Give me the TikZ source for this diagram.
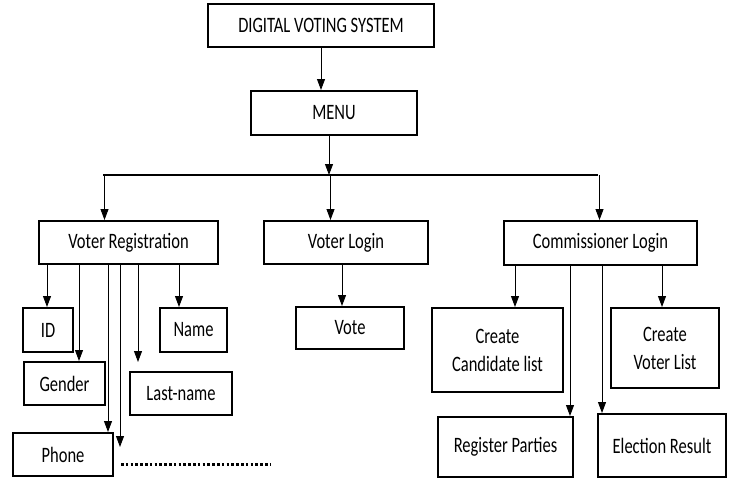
\documentclass[tikz,border=0pt]{standalone}
\usepackage{fontspec}
\setmainfont{Carlito}[FakeStretch=0.75]
\usetikzlibrary{arrows.meta}

\begin{document}
\begin{tikzpicture}[x=1pt,y=-1pt,
    box/.style={draw, line width=2pt, inner sep=0pt, align=center,
                font=\fontsize{22}{28}\selectfont},
    link/.style={-{Triangle[length=11pt,width=8pt]}, line width=0.9pt}]
  \useasboundingbox (0,0) rectangle (730,479);

  % top
  \node[box, minimum width=226pt, minimum height=43pt] (dvs) at (321,25.5) {DIGITAL VOTING SYSTEM};
  \node[box, minimum width=166pt, minimum height=44pt] (menu) at (334,113) {MENU};

  % second level
  \node[box, minimum width=179pt, minimum height=43pt] (voterreg) at (128.5,242.5) {Voter Registration};
  \node[box, minimum width=164pt, minimum height=43pt] (voterlogin) at (346,242.5) {Voter Login};
  \node[box, minimum width=193pt, minimum height=44pt] (commlogin) at (600.5,243) {Commissioner Login};

  % voter registration fields
  \node[box, minimum width=50pt, minimum height=44pt] (id) at (48,330) {ID};
  \node[box, minimum width=67pt, minimum height=44pt] (name) at (193.5,330) {Name};
  \node[box, minimum width=81pt, minimum height=43pt] (gender) at (64.5,383.5) {Gender};
  \node[box, minimum width=102pt, minimum height=43pt] (lastname) at (181,393.5) {Last-name};
  \node[box, minimum width=100pt, minimum height=43pt] (phone) at (63,454.5) {Phone};

  \node[box, minimum width=108pt, minimum height=42pt] (vote) at (350,328) {Vote};

  % commissioner
  \node[box, minimum width=131pt, minimum height=84pt] (cand) at (497.5,350) {Create\\Candidate list};
  \node[box, minimum width=108pt, minimum height=80pt] (voterlist) at (665,348) {Create\\Voter List};
  \node[box, minimum width=135pt, minimum height=60pt] (parties) at (505.5,447) {Register Parties};
  \node[box, minimum width=128pt, minimum height=63pt] (result) at (662,445.5) {Election Result};

  \coordinate (barL) at (103,175);
  \coordinate (barM) at (329,175);
  \coordinate (barR) at (598,175);
  \coordinate (more) at (120,447);
  \coordinate (lnend) at (138,362);

  \draw[link] (dvs.south) -- (dvs.south |- menu.north);
  \draw[link] ([xshift=-5pt]menu.south) -- ([xshift=-5pt]menu.south |- barM);
  \draw[line width=2.5pt] (barL) -- (barR);

  \foreach \b/\n in {barL/voterreg, barM/voterlogin, barR/commlogin}
    \draw[link] ([xshift=1.5pt]\b) -- ([xshift=1.5pt]\b |- \n.north);

  \draw[link] ([xshift=-1pt]id.north |- voterreg.south) -- ([xshift=-1pt]id.north);
  \draw[link] ([xshift=-14.5pt]name.north |- voterreg.south) -- ([xshift=-14.5pt]name.north);
  \draw[link] ([xshift=14.5pt]gender.north |- voterreg.south) -- ([xshift=14.5pt]gender.north);
  \draw[link] ([xshift=45pt]phone.north |- voterreg.south) -- ([xshift=45pt]phone.north);
  \draw[link] (more |- voterreg.south) -- (more);
  \draw[link] (lnend |- voterreg.south) -- (lnend);
  \draw[line width=3pt, dash pattern=on 2.6pt off 2.2pt]
    ([xshift=7pt,yshift=-9.5pt]phone.east) -- ++(149,0);

  \draw[link] ([xshift=-4pt]voterlogin.south) -- ([xshift=-4pt]voterlogin.south |- vote.north);

  \foreach \s/\n in {17.5/cand, 64.5/parties, -60/result, -3/voterlist}
    \draw[link] ([xshift=\s pt]\n.north |- commlogin.south) -- ([xshift=\s pt]\n.north);
\end{tikzpicture}
\end{document}
